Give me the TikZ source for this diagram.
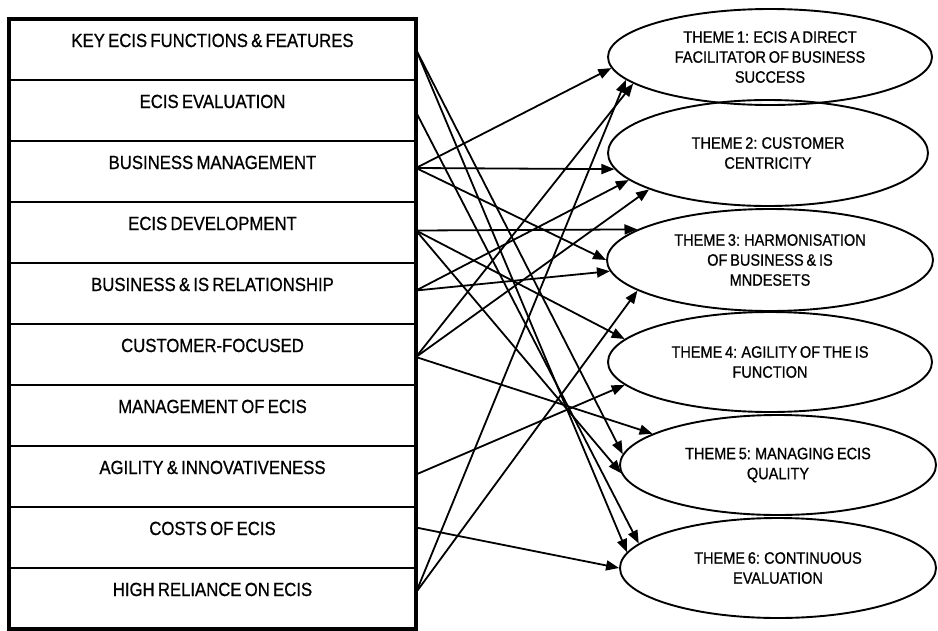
\documentclass[tikz,border=0pt]{standalone}
\usepackage{fontspec}
\setmainfont{Liberation Sans}[FakeStretch=0.88, FakeBold=0.8, WordSpace=0.7]
\usetikzlibrary{arrows.meta,shapes.geometric}

\begin{document}
\begin{tikzpicture}[x=1pt,y=-1pt,
  rowbox/.style={draw=none, minimum width=407pt, minimum height=61pt, inner sep=0pt, outer sep=0pt},
  rowtext/.style={anchor=base, font=\fontsize{19}{21}\selectfont, inner sep=0pt},
  theme/.style={ellipse, draw, line width=1.9pt, align=center, inner sep=0pt,
    font=\fontsize{16.5}{20}\selectfont},
  link/.style={line width=1.8pt, -{Triangle[length=13pt,width=10pt]}},
]
\useasboundingbox (0,0) rectangle (938,630);

% left-hand table of categories
\node[rowbox] (r1)  at (212.5, 49.5) {};
\node[rowbox] (r2)  at (212.5,110.5) {};
\node[rowbox] (r3)  at (212.5,171.5) {};
\node[rowbox] (r4)  at (212.5,232.5) {};
\node[rowbox] (r5)  at (212.5,293.5) {};
\node[rowbox] (r6)  at (212.5,354.5) {};
\node[rowbox] (r7)  at (212.5,415.5) {};
\node[rowbox] (r8)  at (212.5,476.5) {};
\node[rowbox] (r9)  at (212.5,537.5) {};
\node[rowbox] (r10) at (212.5,598.5) {};

\node[rowtext] (l1)  at ([yshift=-28pt]r1.north)  {KEY ECIS FUNCTIONS \& FEATURES};
\node[rowtext] (l2)  at ([yshift=-28pt]r2.north)  {ECIS EVALUATION};
\node[rowtext] (l3)  at ([yshift=-28pt]r3.north)  {BUSINESS MANAGEMENT};
\node[rowtext] (l4)  at ([yshift=-28pt]r4.north)  {ECIS DEVELOPMENT};
\node[rowtext] (l5)  at ([yshift=-28pt]r5.north)  {BUSINESS \& IS RELATIONSHIP};
\node[rowtext] (l6)  at ([yshift=-28pt]r6.north)  {CUSTOMER-FOCUSED};
\node[rowtext] (l7)  at ([yshift=-28pt]r7.north)  {MANAGEMENT OF ECIS};
\node[rowtext] (l8)  at ([yshift=-28pt]r8.north)  {AGILITY \& INNOVATIVENESS};
\node[rowtext] (l9)  at ([yshift=-28pt]r9.north)  {COSTS OF ECIS};
\node[rowtext] (l10) at ([yshift=-28pt]r10.north) {HIGH RELIANCE ON ECIS};

\foreach \r in {r1,r2,r3,r4,r5,r6,r7,r8,r9}
  \draw[line width=1.8pt] (\r.south west) -- (\r.south east);
\draw[line width=3.2pt] (r1.north west) rectangle (r10.south east);

% themes
\node[theme, minimum width=324pt, minimum height=96pt]  (t1) at (770, 57)
  {THEME 1: ECIS A DIRECT\\FACILITATOR OF BUSINESS\\SUCCESS};
\node[theme, minimum width=320pt, minimum height=106pt] (t2) at (768,153)
  {THEME 2: CUSTOMER\\CENTRICITY};
\node[theme, minimum width=326pt, minimum height=102pt] (t3) at (770,260)
  {THEME 3: HARMONISATION\\OF BUSINESS \& IS\\MNDESETS};
\node[theme, minimum width=324pt, minimum height=100pt] (t4) at (770,362)
  {THEME 4: AGILITY OF THE IS\\FUNCTION};
\node[theme, minimum width=316pt, minimum height=100pt] (t5) at (778,465)
  {THEME 5: MANAGING ECIS\\QUALITY};
\node[theme, minimum width=316pt, minimum height=100pt] (t6) at (778,568)
  {THEME 6: CONTINUOUS\\EVALUATION};

% links from categories to themes
\draw[link] (r1.east) -- (t5.176);
\draw[link] (r1.east) -- (t6.174);

\draw[link] ([yshift=-1.5pt]r2.east) -- (t6.170);

\draw[link] ([yshift=3.5pt]r3.east) -- (t1.184);
\draw[link] ([yshift=3.5pt]r3.east) -- (t2.186);
\draw[link] ([yshift=3.5pt]r3.east) -- (t3.180);

\draw[link] ([yshift=2pt]r4.east) -- (t3.167);
\draw[link] ([yshift=2pt]r4.east) -- (t4.171);
\draw[link] ([yshift=2pt]r4.east) -- (t5.183);

\draw[link] ([yshift=3pt]r5.east) -- (t2.191);
\draw[link] ([yshift=3pt]r5.east) -- (t3.184);

\draw[link] ([yshift=-2.5pt]r6.east) -- (t1.191);
\draw[link] ([yshift=-2.5pt]r6.east) -- (t2.197);
\draw[link] ([yshift=-2.5pt]r6.east) -- (t5.166);

\draw[link] ([yshift=2pt]r8.east) -- (t4.189);

\draw[link] ([yshift=10pt]r9.east) -- (t6.180);

\draw[link] ([yshift=6pt]r10.east) -- (t1.189);
\draw[link] ([yshift=6pt]r10.east) -- (t3.193);
\end{tikzpicture}
\end{document}
